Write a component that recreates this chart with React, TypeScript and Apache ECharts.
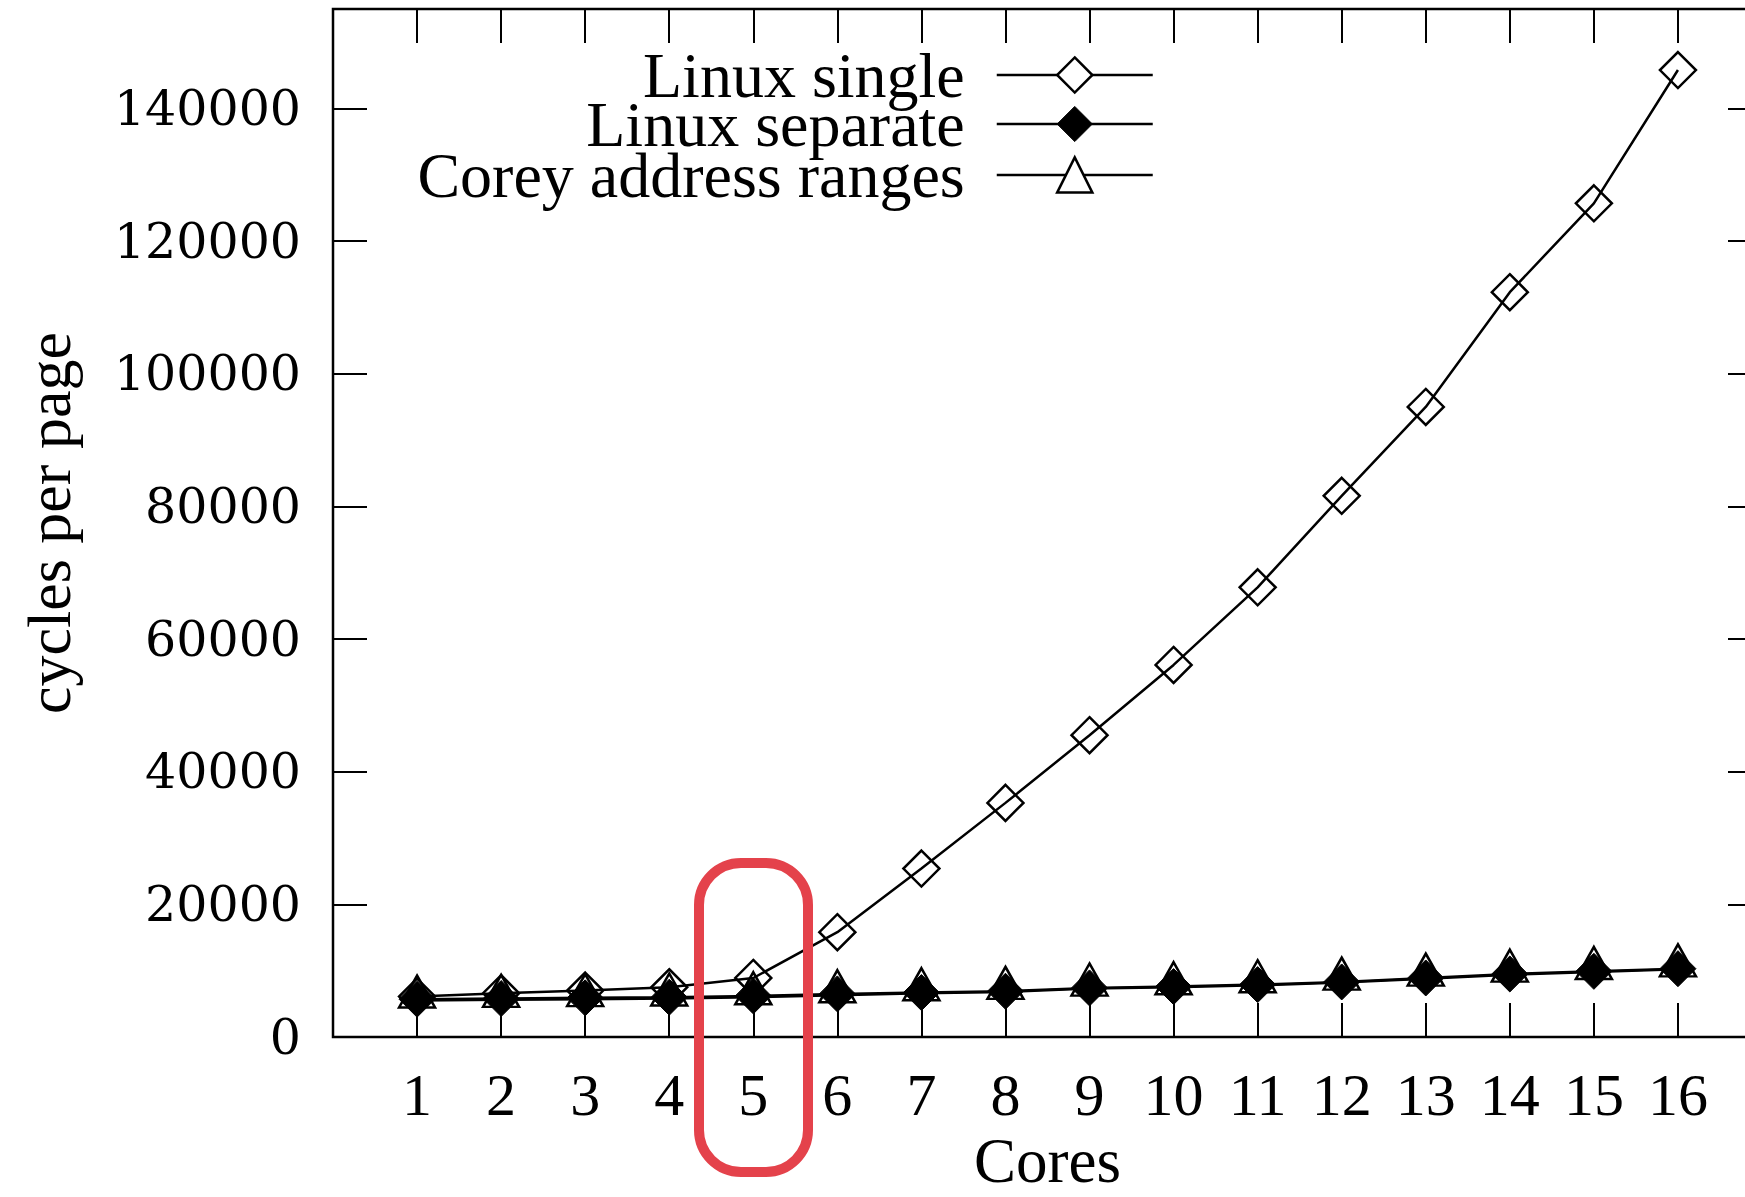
import React, { useEffect, useRef } from 'react';
import * as echarts from 'echarts';

const cores = [1, 2, 3, 4, 5, 6, 7, 8, 9, 10, 11, 12, 13, 14, 15, 16];
const linuxSingle = [6100, 6600, 7000, 7500, 8900, 15800, 25400, 35300, 45500, 56100, 67800, 81600, 95000, 112300, 125700, 145800];
const linuxSeparate = [5700, 5800, 5900, 6000, 6200, 6500, 6700, 6900, 7400, 7600, 7900, 8300, 8900, 9500, 9900, 10300];
const coreyRanges = [5500, 5600, 5700, 5800, 6000, 6300, 6600, 6800, 7300, 7500, 7800, 8200, 8800, 9400, 9800, 10200];
const seriesNames = ['Linux single', 'Linux separate', 'Corey address ranges'];
const yTickMax = 140000;

export default function App() {
  const ref = useRef<HTMLDivElement>(null);
  useEffect(() => {
    const chart = echarts.init(ref.current as HTMLDivElement, null, { renderer: 'svg' });
    const serif = "'Liberation Serif', 'Times New Roman', serif";
    const wideSerif = "'DejaVu Serif', serif";
    const pairs = (vals: number[]) => cores.map((c, i) => [c, vals[i]]);
    const tick = () => ({ show: true, inside: true, length: 34, lineStyle: { color: '#000', width: 2 } });
    const noLine = () => ({ show: false, onZero: false });
    const legendBase = {
      orient: 'horizontal',
      align: 'right',
      right: 591,
      padding: 0,
      itemWidth: 156,
      itemHeight: 44,
      selectedMode: false,
      textStyle: { fontFamily: serif, fontSize: 64, color: '#000', lineHeight: 50, padding: [0, 27, 0, 0] },
      lineStyle: { color: '#000', width: 2.5 },
    };
    chart.setOption({
      animation: false,
      backgroundColor: '#fff',
      grid: {
        left: 333, top: 9, width: 1429, height: 1028,
        outerBoundsMode: 'none', containLabel: false,
        show: true, borderColor: '#000', borderWidth: 2.5, backgroundColor: 'transparent',
      },
      xAxis: [
        {
          type: 'value', position: 'bottom', min: 0, max: 17, interval: 1,
          splitLine: { show: false }, axisLine: noLine(), axisTick: tick(),
          axisLabel: {
            formatter: (v: number) => (v >= 1 && v <= 16 ? String(v) : ''),
            fontFamily: serif, fontSize: 60, color: '#000', margin: 28, lineHeight: 60,
          },
          name: 'Cores', nameLocation: 'middle', nameGap: 96,
          nameTextStyle: { fontFamily: serif, fontSize: 63, color: '#000', lineHeight: 56 },
        },
        {
          type: 'value', position: 'top', min: 0, max: 17, interval: 1,
          splitLine: { show: false }, axisLine: noLine(), axisTick: tick(),
          axisLabel: { show: false },
        },
      ],
      yAxis: [
        {
          type: 'value', position: 'left', min: 0, max: 155000, interval: 20000,
          splitLine: { show: false }, axisLine: noLine(), axisTick: tick(),
          axisLabel: {
            formatter: (v: number) => (v <= yTickMax ? String(v) : ''),
            fontFamily: wideSerif, fontSize: 49, color: '#000', margin: 32,
          },
          name: 'cycles per page', nameLocation: 'middle', nameGap: 253,
          nameTextStyle: { fontFamily: serif, fontSize: 62, color: '#000', lineHeight: 62 },
        },
        {
          type: 'value', position: 'right', min: 0, max: 155000, interval: 20000,
          splitLine: { show: false }, axisLine: noLine(), axisTick: tick(),
          axisLabel: { show: false },
        },
      ],
      legend: [
        { ...legendBase, top: 43, data: [seriesNames[0]], itemStyle: { color: '#fff', borderColor: '#000', borderWidth: 2.5 } },
        { ...legendBase, top: 92, data: [seriesNames[1]], itemStyle: { color: '#000', borderColor: '#000', borderWidth: 1 } },
        { ...legendBase, top: 143, data: [seriesNames[2]], itemStyle: { color: '#fff', borderColor: '#000', borderWidth: 2.5 } },
      ],
      series: [
        {
          name: seriesNames[2], type: 'line', data: pairs(coreyRanges),
          symbol: 'triangle', symbolSize: [36, 32], symbolOffset: [0, -9],
          lineStyle: { color: '#000', width: 2.5 },
          itemStyle: { color: 'rgba(0,0,0,0)', borderColor: '#000', borderWidth: 2.5 },
          z: 2,
        },
        {
          name: seriesNames[1], type: 'line', data: pairs(linuxSeparate),
          symbol: 'diamond', symbolSize: 36,
          lineStyle: { color: '#000', width: 2.5 },
          itemStyle: { color: '#000', borderColor: '#000', borderWidth: 1 },
          z: 3,
        },
        {
          name: seriesNames[0], type: 'line', data: pairs(linuxSingle),
          symbol: 'diamond', symbolSize: 36,
          lineStyle: { color: '#000', width: 2.5 },
          itemStyle: { color: 'rgba(0,0,0,0)', borderColor: '#000', borderWidth: 2.5 },
          z: 4,
        },
      ],
      graphic: [
        {
          type: 'rect', z: 100,
          shape: { x: 699, y: 863, width: 109, height: 309, r: 42 },
          style: { fill: 'none', stroke: '#E4424B', lineWidth: 10 },
        },
      ],
    });
    return () => chart.dispose();
  }, []);
  return (
    <div
      ref={ref}
      style={{ position: 'absolute', left: 0, top: 0, width: 1745, height: 1197, background: '#fff' }}
    />
  );
}
